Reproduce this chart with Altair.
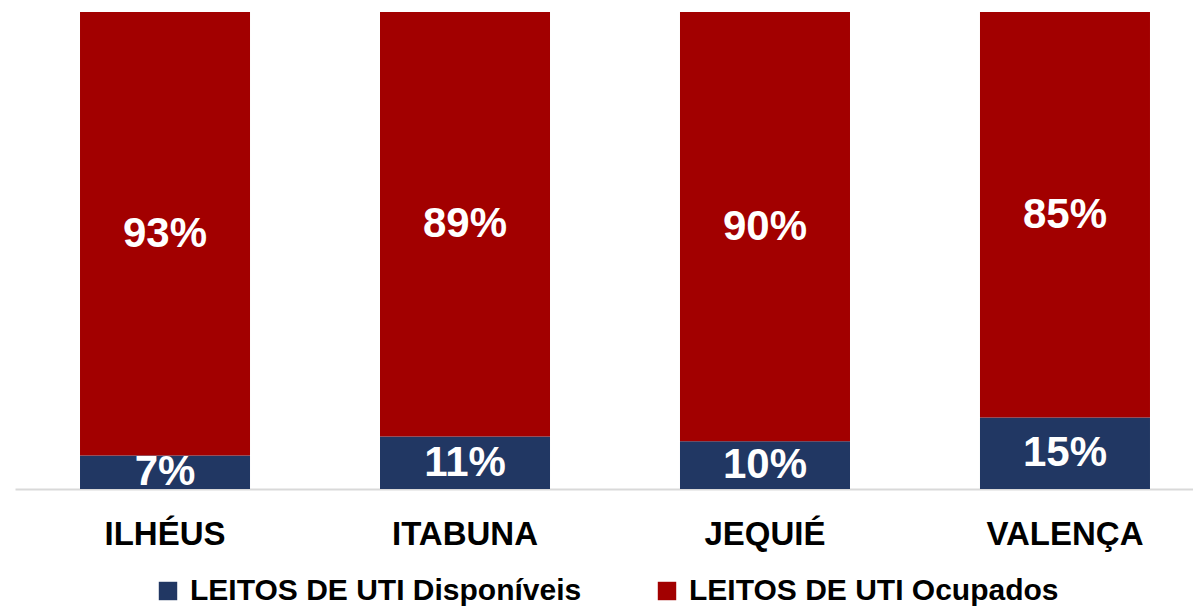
import altair as alt
import pandas as pd

cidades = ["ILHÉUS", "ITABUNA", "JEQUIÉ", "VALENÇA"]
disponiveis = [7, 11, 10, 15]
ocupados = [93, 89, 90, 85]
series = ["LEITOS DE UTI Disponíveis", "LEITOS DE UTI Ocupados"]
cores = ["#213763", "#A20000"]

rows = []
for i, c in enumerate(cidades):
    rows.append({"cidade": c, "serie": series[0], "valor": disponiveis[i], "ordem": 0})
    rows.append({"cidade": c, "serie": series[1], "valor": ocupados[i], "ordem": 1})
df = pd.DataFrame(rows)

FONT = "Liberation Sans"

x = alt.X("cidade:N", sort=cidades,
          scale=alt.Scale(range=[0, 1200], paddingInner=0.4333, paddingOuter=0.2167),
          axis=alt.Axis(title=None, labelAngle=0, ticks=False, tickSize=0,
                        labelFont=FONT, labelFontSize=33, labelFontWeight="bold",
                        labelColor="#000000", labelPadding=29,
                        domainColor="#d9d9d9", domainWidth=2, grid=False))

base = alt.Chart(df).transform_stack(
    stack="valor", groupby=["cidade"], as_=["y0", "y1"],
    sort=[alt.SortField("ordem", order="ascending")]
)

bars = base.mark_bar().encode(
    x=x,
    y=alt.Y("y0:Q", scale=alt.Scale(domain=[0, 100], nice=False), axis=None),
    y2="y1:Q",
    color=alt.Color("serie:N", sort=series,
                    scale=alt.Scale(domain=series, range=cores),
                    legend=alt.Legend(title=None, orient="none", legendX=138, legendY=564,
                                      direction="horizontal", columns=2,
                                      symbolType="square", symbolSize=340,
                                      symbolStrokeWidth=0,
                                      labelFont=FONT, labelFontSize=30,
                                      labelFontWeight="bold", labelColor="#000000",
                                      labelLimit=0, labelOffset=7, columnPadding=70)),
)

labels = base.transform_calculate(
    mid="(datum.y0 + datum.y1) / 2",
    rotulo="datum.valor + '%'"
).mark_text(font=FONT, fontSize=42, fontWeight="bold", color="white",
            baseline="middle", align="center", clip=True).encode(
    x=x,
    y=alt.Y("mid:Q", scale=alt.Scale(domain=[0, 100], nice=False), axis=None),
    text="rotulo:N",
)

chart = alt.layer(bars, labels).properties(
    width=1178, height=477,
    padding={"left": 7, "top": 4, "right": 0, "bottom": 119},
    autosize=alt.AutoSizeParams(type="none"),
).configure_view(stroke=None)

chart.save("out.html", embed_options={"renderer": "svg", "actions": False})
